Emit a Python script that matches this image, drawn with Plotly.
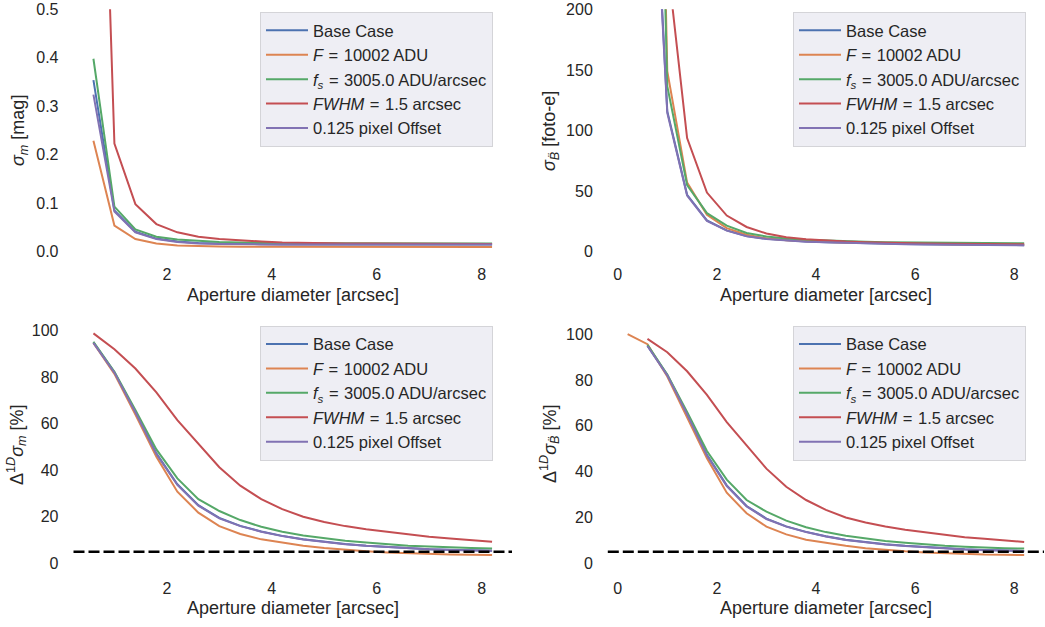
import plotly.graph_objects as go

# ---------------- data ----------------
aperture = [0.6, 1.0, 1.4, 1.8, 2.2, 2.6, 3.0, 3.4, 3.8, 4.2,
            4.6, 5.0, 5.4, 5.8, 6.2, 6.6, 7.0, 7.4, 7.8, 8.2]
aperture_flux = [0.2] + aperture   # the F=10002 ADU case has one extra small aperture

series_names = ["Base Case",
                "<i>F</i>\u2004=\u200410002 ADU",
                "<i>f<sub>s</sub></i>\u2004=\u20043005.0 ADU/arcsec",
                "<i>FWHM</i>\u2004=\u20041.5 arcsec",
                "0.125 pixel Offset"]

# sigma_m [mag]
sigm_base   = [0.354, 0.085, 0.041, 0.027, 0.021, 0.018, 0.017, 0.016, 0.0155, 0.015,
               0.015, 0.015, 0.015, 0.015, 0.015, 0.015, 0.015, 0.015, 0.015, 0.015]
sigm_flux   = [0.229, 0.054, 0.026, 0.017, 0.013, 0.011, 0.0105, 0.010, 0.010, 0.010,
               0.0098, 0.0097, 0.0097, 0.0096, 0.0096, 0.0095, 0.0095, 0.0095, 0.0095, 0.0095]
sigm_sky    = [0.398, 0.093, 0.046, 0.031, 0.025, 0.022, 0.020, 0.019, 0.018, 0.018,
               0.0175, 0.0172, 0.017, 0.017, 0.017, 0.017, 0.017, 0.017, 0.017, 0.017]
sigm_fwhm   = [1.56, 0.223, 0.098, 0.057, 0.040, 0.031, 0.026, 0.023, 0.021, 0.019,
               0.018, 0.0175, 0.017, 0.0167, 0.0165, 0.0163, 0.016, 0.016, 0.016, 0.016]
sigm_offset = [0.324, 0.083, 0.040, 0.026, 0.020, 0.017, 0.016, 0.015, 0.015, 0.0148,
               0.0148, 0.0148, 0.0148, 0.0148, 0.0148, 0.0148, 0.0148, 0.0148, 0.0148, 0.0148]

# sigma_B [foto-e]
sigb_base   = [440, 116, 47, 25.8, 17.6, 13.0, 10.6, 9.3, 8.4, 7.8,
               7.3, 6.9, 6.6, 6.3, 6.1, 5.9, 5.7, 5.6, 5.5, 5.4]
sigb_flux   = [2500, 900, 149, 57, 30.4, 19.4, 14.0, 11.0, 9.5, 8.6, 8.0,
               7.5, 7.1, 6.8, 6.5, 6.3, 6.1, 5.9, 5.8, 5.7, 5.6]
sigb_sky    = [800, 136.5, 55, 31.8, 21.5, 15.5, 12.5, 10.8, 9.8, 9.1,
               8.6, 8.2, 7.9, 7.7, 7.5, 7.3, 7.2, 7.1, 7.0, 6.9]
sigb_fwhm   = [1500, 240, 93.8, 48.8, 29.8, 20.4, 15.0, 12.0, 10.3, 9.2,
               8.4, 7.9, 7.4, 7.1, 6.8, 6.6, 6.4, 6.3, 6.2, 6.1]
sigb_offset = [430, 114.5, 46.3, 25.4, 17.4, 12.8, 10.5, 9.2, 8.3, 7.7,
               7.2, 6.8, 6.5, 6.2, 6.0, 5.8, 5.6, 5.5, 5.4, 5.3]

# Delta^1D sigma_m [%]
dm_base   = [95.0, 82.2, 65.2, 47.3, 34.0, 25.0, 19.5, 16.1, 13.7, 11.8,
             10.3, 9.2, 8.3, 7.6, 7.0, 6.5, 6.1, 5.8, 5.6, 5.4]
dm_flux   = [94.8, 81.5, 64.0, 45.8, 30.8, 21.8, 16.0, 12.6, 10.3, 8.9,
             7.6, 6.6, 5.8, 5.2, 4.7, 4.3, 4.0, 3.8, 3.7, 3.6]
dm_sky    = [95.3, 82.4, 66.0, 49.0, 36.5, 27.6, 22.5, 18.6, 15.7, 13.6,
             12.0, 10.7, 9.7, 8.9, 8.2, 7.6, 7.2, 6.8, 6.6, 6.4]
dm_fwhm   = [98.9, 92.1, 83.8, 73.5, 61.6, 51.6, 41.3, 33.4, 27.6, 23.3,
             20.0, 17.8, 16.0, 14.6, 13.5, 12.4, 11.4, 10.7, 10.0, 9.3]
dm_offset = [94.8, 82.0, 65.0, 47.0, 33.7, 24.8, 19.3, 16.0, 13.6, 11.7,
             10.2, 9.1, 8.2, 7.5, 6.9, 6.4, 6.0, 5.7, 5.5, 5.4]

# Delta^1D sigma_B [%]
db_base   = dm_base
db_flux   = [100.0, 95.6, 81.5, 64.0, 45.8, 30.8, 21.8, 16.0, 12.6, 10.3, 8.9,
             7.6, 6.6, 5.8, 5.2, 4.7, 4.3, 4.0, 3.8, 3.7, 3.6]
db_sky    = dm_sky
db_fwhm   = [97.9, 92.1, 83.8, 73.5, 61.6, 51.6, 41.3, 33.4, 27.6, 23.3,
             20.0, 17.8, 16.0, 14.6, 13.5, 12.4, 11.4, 10.7, 10.0, 9.3]
db_offset = dm_offset

threshold = 5.0

# ---------------- style ----------------
colors = ["#4C72B0", "#DD8452", "#55A868", "#C44E52", "#8172B3"]
W, H = 1045, 627
FONT = "Liberation Sans, Arial, sans-serif"
TXT = "#262626"

fig = go.Figure()


def px_x(p):
    return p / W


def px_y(p):
    return 1 - p / H


dom_x_left = [px_x(73.5), px_x(512)]
dom_x_right = [px_x(607.8), px_x(1044)]
dom_y_top = [px_y(251.7), px_y(9.3)]
dom_y_bot = [px_y(566.1), px_y(322.2)]

panels = [
    ("x", "y", "legend", [aperture, aperture, aperture, aperture, aperture],
     [sigm_base, sigm_flux, sigm_sky, sigm_fwhm, sigm_offset]),
    ("x2", "y2", "legend2", [aperture, aperture_flux, aperture, aperture, aperture],
     [sigb_base, sigb_flux, sigb_sky, sigb_fwhm, sigb_offset]),
    ("x3", "y3", "legend3", [aperture, aperture, aperture, aperture, aperture],
     [dm_base, dm_flux, dm_sky, dm_fwhm, dm_offset]),
    ("x4", "y4", "legend4", [aperture, aperture_flux, aperture, aperture, aperture],
     [db_base, db_flux, db_sky, db_fwhm, db_offset]),
]

for xa, ya, lg, xs, ys in panels:
    for i in range(5):
        fig.add_trace(go.Scatter(
            x=xs[i], y=ys[i], mode="lines", name=series_names[i],
            line=dict(color=colors[i], width=2),
            xaxis=xa, yaxis=ya, legend=lg, showlegend=True,
        ))

common = dict(showgrid=False, zeroline=False, showline=False, ticks="",
              automargin=False,
              tickfont=dict(family=FONT, size=16, color=TXT))
xcommon = dict(ticklabelstandoff=11, **common)
ycommon = dict(ticklabelstandoff=14, **common)

fig.update_layout(
    width=W, height=H,
    margin=dict(l=0, r=0, t=0, b=0, autoexpand=False),
    paper_bgcolor="white", plot_bgcolor="white",
    font=dict(family=FONT, size=16, color=TXT),
    hovermode=False,
    xaxis=dict(domain=dom_x_left, range=[0.22, 8.58], anchor="y",
               tickvals=[2, 4, 6, 8], **xcommon),
    yaxis=dict(domain=dom_y_top, range=[0, 0.5], anchor="x",
               tickvals=[0, 0.1, 0.2, 0.3, 0.4, 0.5], tickformat=".1f", **ycommon),
    xaxis2=dict(domain=dom_x_right, range=[-0.2, 8.6], anchor="y2",
                tickvals=[0, 2, 4, 6, 8], **xcommon),
    yaxis2=dict(domain=dom_y_top, range=[0, 200], anchor="x2",
                tickvals=[0, 50, 100, 150, 200], **ycommon),
    xaxis3=dict(domain=dom_x_left, range=[0.22, 8.58], anchor="y3",
                tickvals=[2, 4, 6, 8], **xcommon),
    yaxis3=dict(domain=dom_y_bot, range=[-1.2, 103.7], anchor="x3",
                tickvals=[0, 20, 40, 60, 80, 100], **ycommon),
    xaxis4=dict(domain=dom_x_right, range=[-0.2, 8.6], anchor="y4",
                tickvals=[0, 2, 4, 6, 8], **xcommon),
    yaxis4=dict(domain=dom_y_bot, range=[-1.24, 105.2], anchor="x4",
                tickvals=[0, 20, 40, 60, 80, 100], **ycommon),
)

legend_common = dict(bgcolor="#EEEEF4", bordercolor="#D4D4D8", borderwidth=1,
                     font=dict(family=FONT, size=16.5, color=TXT),
                     xanchor="left", yanchor="top", itemwidth=42)
fig.update_layout(
    legend=dict(x=px_x(260), y=px_y(12), **legend_common),
    legend2=dict(x=px_x(793), y=px_y(12), **legend_common),
    legend3=dict(x=px_x(260), y=px_y(325.7), **legend_common),
    legend4=dict(x=px_x(793), y=px_y(325.7), **legend_common),
)

# dashed threshold lines
for xr, yr in [("x3", "y3"), ("x4", "y4")]:
    fig.add_shape(type="line", xref=f"{xr} domain", yref=yr,
                  x0=0, x1=1, y0=threshold, y1=threshold,
                  line=dict(color="black", width=2.5, dash="11px,4px"))

# axis titles as annotations
xt = "Aperture diameter [arcsec]"
titles = [
    (293, 295, xt, 0),
    (826, 295, xt, 0),
    (293, 607.5, xt, 0),
    (826, 607.5, xt, 0),
    (20, 131, "<i>σ<sub>m</sub></i> [mag]", -90),
    (551, 131, "<i>σ<sub>B̈</sub></i> [foto-e]", -90),
    (16, 445, "Δ<sup>1<i>D</i></sup><i>σ<sub>m</sub></i> [%]", -90),
    (549, 444, "Δ<sup>1<i>D</i></sup><i>σ<sub>B̈</sub></i> [%]", -90),
]
for x, y, t, ang in titles:
    fig.add_annotation(x=px_x(x), y=px_y(y), xref="paper", yref="paper",
                       text=t, textangle=ang, showarrow=False,
                       xanchor="center", yanchor="middle",
                       font=dict(family=FONT, size=18, color=TXT))

fig.write_html("out.html",
               config={"displayModeBar": False},
               post_script="document.body.style.margin='0';document.body.style.padding='0';")
